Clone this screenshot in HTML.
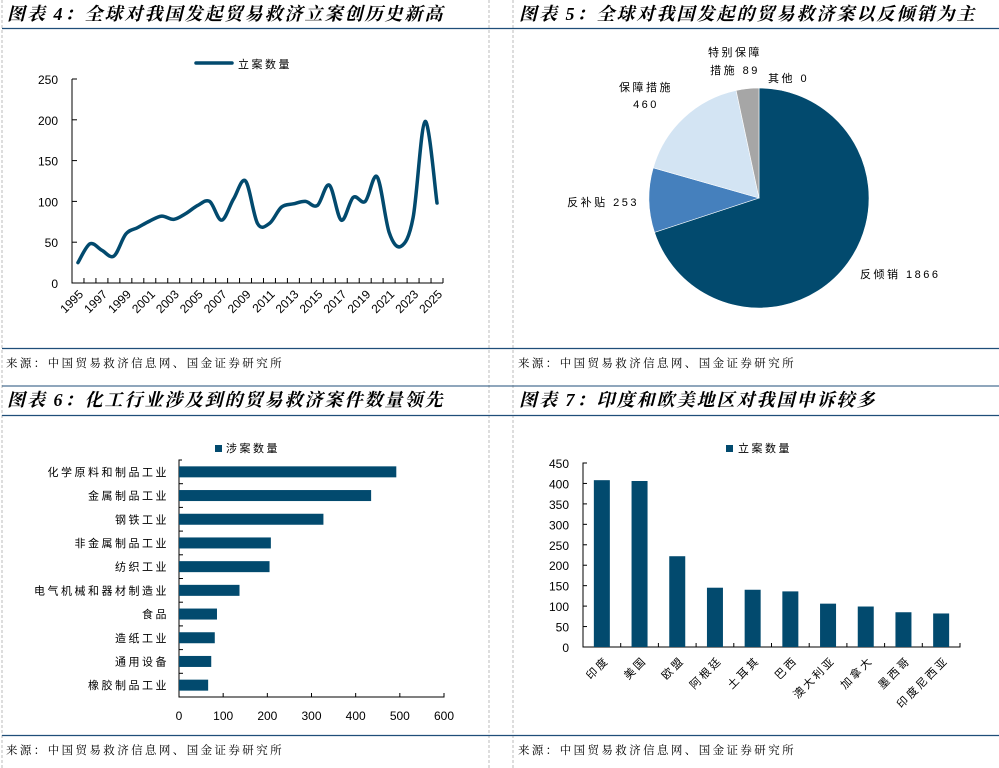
<!DOCTYPE html>
<html><head><meta charset="utf-8">
<style>
body{margin:0;width:999px;height:768px;background:#fff;overflow:hidden;font-family:"Liberation Sans","Noto Sans CJK SC",sans-serif;}
svg{position:absolute;left:0;top:0;}
.t{font-family:"Liberation Serif","Noto Serif CJK SC",serif;font-weight:bold;font-style:italic;font-size:18px;letter-spacing:2px;fill:#000;}
.src{font-family:"Liberation Serif","Noto Serif CJK SC",serif;font-size:11.5px;letter-spacing:2.4px;fill:#000;}
.tk{font-size:12px;fill:#000;}
.lb{font-size:11px;fill:#000;letter-spacing:2.5px;font-family:"Liberation Sans","Noto Sans CJK SC",sans-serif;}
</style></head><body>
<svg id="s" width="999" height="768" xmlns="http://www.w3.org/2000/svg">
<g stroke="#bbb" stroke-dasharray="3,2" stroke-width="1">
<line x1="2" y1="0" x2="2" y2="768"/><line x1="489" y1="0" x2="489" y2="768"/><line x1="513" y1="0" x2="513" y2="768"/>
</g>
<g stroke="#1f4e79" stroke-width="1.3">
<line x1="2" y1="28.5" x2="500" y2="28.5"/><line x1="500" y1="28.5" x2="999" y2="28.5"/>
<line x1="2" y1="348.5" x2="500" y2="348.5"/><line x1="500" y1="348.5" x2="999" y2="348.5"/>
<line x1="2" y1="415.5" x2="500" y2="415.5"/><line x1="500" y1="415.5" x2="999" y2="415.5"/>
<line x1="2" y1="735.5" x2="500" y2="735.5"/><line x1="500" y1="735.5" x2="999" y2="735.5"/>
<line x1="500" y1="386" x2="999" y2="386" stroke-width="1"/><line x1="2" y1="386" x2="500" y2="386" stroke-width="1"/>
</g>
<text class="t" x="7" y="20">图表 4：全球对我国发起贸易救济立案创历史新高</text>
<text class="t" x="519" y="20">图表 5：全球对我国发起的贸易救济案以反倾销为主</text>
<text class="t" x="7" y="406">图表 6：化工行业涉及到的贸易救济案件数量领先</text>
<text class="t" x="519" y="406">图表 7：印度和欧美地区对我国申诉较多</text>
<text class="src" x="6" y="367">来源：中国贸易救济信息网、国金证券研究所</text>
<text class="src" x="518" y="367">来源：中国贸易救济信息网、国金证券研究所</text>
<text class="src" x="6" y="754">来源：中国贸易救济信息网、国金证券研究所</text>
<text class="src" x="518" y="754">来源：中国贸易救济信息网、国金证券研究所</text>
<g id="c4"></g>
<g id="c5"></g>
<g id="c6"></g>
<g id="c7"></g>
</svg>
<script>
const years=[1995,1996,1997,1998,1999,2000,2001,2002,2003,2004,2005,2006,2007,2008,2009,2010,2011,2012,2013,2014,2015,2016,2017,2018,2019,2020,2021,2022,2023,2024,2025];
const cases=[25,48,40,33,60,68,76,82,78,85,95,100,77,103,125,73,73,93,97,100,95,120,77,105,100,130,62,45,80,198,98];
const yTicks4=[0,50,100,150,200,250];
const pieLabels=["反倾销","反补贴","保障措施","特别保障措施","其他"];
const pieValues=[1866,253,460,89,0];
const inds=["化学原料和制品工业","金属制品工业","钢铁工业","非金属制品工业","纺织工业","电气机械和器材制造业","食品","造纸工业","通用设备","橡胶制品工业"];
const indVals=[492,435,327,208,205,137,86,81,73,66];
const xTicks6=[0,100,200,300,400,500,600];
const countries=["印度","美国","欧盟","阿根廷","土耳其","巴西","澳大利亚","加拿大","墨西哥","印度尼西亚"];
const ctyVals=[408,406,222,145,140,136,106,99,85,82];
const yTicks7=[0,50,100,150,200,250,300,350,400,450];
const NS="http://www.w3.org/2000/svg";
const C="#024a6e";
function mk(p,tag,a,txt){const e=document.createElementNS(NS,tag);for(const k in a)e.setAttribute(k,a[k]);if(txt!==undefined)e.textContent=txt;p.appendChild(e);return e;}
// chart 4
(function(){
const g=document.getElementById('c4');
const x0=72,x1=443,y0=283,y1=79,n=years.length,bw=(x1-x0)/n;
const X=i=>x0+bw*(i+0.5),Y=v=>y0-(v/250)*(y0-y1);
let a=mk(g,'path',{d:`M${x0} ${y1}V${y0}H${x1}`,fill:'none',stroke:'#000','stroke-width':1});

yTicks4.forEach(t=>{mk(g,'line',{x1:x0,x2:x0+5,y1:Y(t),y2:Y(t),stroke:'#000'});
let e=mk(g,'text',{x:x0-14,y:Y(t)+5,'text-anchor':'end',class:'tk','font-size':13},t);});
for(let i=0;i<=n;i++)mk(g,'line',{x1:x0+bw*i,x2:x0+bw*i,y1:y0,y2:y0-5,stroke:'#000'});
years.forEach((yr,i)=>{if(i%2)return;let e=mk(g,'text',{transform:`translate(${X(i)+6},${y0+12}) rotate(-45)`,'text-anchor':'end',class:'tk','font-size':12.5},yr);});
const P=cases.map((v,i)=>[X(i),Y(v)]);
let d=`M${P[0][0]} ${P[0][1]}`;
for(let i=0;i<P.length-1;i++){const p0=P[Math.max(0,i-1)],p1=P[i],p2=P[i+1],p3=P[Math.min(P.length-1,i+2)];const t=1/6;
d+=`C${p1[0]+(p2[0]-p0[0])*t} ${p1[1]+(p2[1]-p0[1])*t} ${p2[0]-(p3[0]-p1[0])*t} ${p2[1]-(p3[1]-p1[1])*t} ${p2[0]} ${p2[1]}`;}
let l=mk(g,'path',{d:d,fill:'none',stroke:C,'stroke-width':3.5,'stroke-linecap':'round'});

let lg=mk(g,'line',{x1:196,x2:232,y1:63,y2:63,stroke:C,'stroke-width':3.5,'stroke-linecap':'round'});

let lt=mk(g,'text',{x:238,y:68,class:'lb','font-size':12},'立案数量');
})();
// chart 5
(function(){
const g=document.getElementById('c5');
const cx=759,cy=198,r=110,cols=["#024a6e","#4580bd","#d3e4f3","#a6a6a6","#666"];
const tot=pieValues.reduce((a,b)=>a+b,0);let ang=0;
const lpos=[[860,278,'start'],[639,206,'end'],[662,91,'end'],[735,56,'middle'],[768,82,'start']];
pieValues.forEach((v,i)=>{const a0=ang,a1=ang+v/tot*2*Math.PI;ang=a1;
if(v>0){const p=(a)=>[cx+r*Math.sin(a),cy-r*Math.cos(a)];const s=p(a0),e=p(a1);
let sl=mk(g,'path',{d:`M${cx} ${cy}L${s[0]} ${s[1]}A${r} ${r} 0 ${a1-a0>Math.PI?1:0} 1 ${e[0]} ${e[1]}Z`,fill:cols[i],stroke:'#fff','stroke-width':0.6});
}
const L=lpos[i];let t;
if(i===2){t=mk(g,'text',{x:L[0]-16,y:L[1],class:'lb','text-anchor':'middle','font-size':12});mk(t,'tspan',{x:L[0]-16,dy:0},pieLabels[i]);mk(t,'tspan',{x:L[0]-16,dy:17},v);}
else if(i===3){t=mk(g,'text',{x:L[0],y:L[1],class:'lb','text-anchor':'middle','font-size':12});mk(t,'tspan',{x:L[0],dy:0},'特别保障');mk(t,'tspan',{x:L[0],dy:18},'措施 '+v);}
else t=mk(g,'text',{x:L[0],y:L[1],class:'lb','text-anchor':L[2],'font-size':12},pieLabels[i]+' '+v);
});
})();
// chart 6
(function(){
const g=document.getElementById('c6');
const x0=179,x1=444,yT=460,yB=697,n=inds.length,bh=(yB-yT)/n;
const X=v=>x0+v/600*(x1-x0);
mk(g,'path',{d:`M${x0+3} ${yT}H${x0}V${yB}H${x1}V${yB-4}`,fill:'none',stroke:'#000'});
for(let i=1;i<n;i++)mk(g,'line',{x1:x0,x2:x0+4,y1:yT+bh*i,y2:yT+bh*i,stroke:'#000'});
xTicks6.forEach(t=>{mk(g,'line',{x1:X(t),x2:X(t),y1:yB,y2:yB-4,stroke:'#000'});
let e=mk(g,'text',{x:X(t),y:yB+23,'text-anchor':'middle',class:'tk','font-size':13},t);});
inds.forEach((c,i)=>{const yc=yT+bh*(i+0.5);
let b=mk(g,'rect',{x:x0,y:yc-5.5,width:X(indVals[i])-x0,height:11,fill:C});
let t=mk(g,'text',{x:169,y:yc+4,'text-anchor':'end',class:'lb'},c);});
let s=mk(g,'rect',{x:215,y:445,width:7,height:7,fill:C});
let lt=mk(g,'text',{x:226,y:452,class:'lb'},'涉案数量');
})();
// chart 7
(function(){
const g=document.getElementById('c7');
const x0=583,x1=960,y0=647,y1=463,n=countries.length,bw=(x1-x0)/n;
const Y=v=>y0-v/450*(y0-y1);
mk(g,'path',{d:`M${x0+4} ${y1}H${x0}V${y0}H${x1}V${y0-4}`,fill:'none',stroke:'#000'});
yTicks7.forEach(t=>{mk(g,'line',{x1:x0,x2:x0+4,y1:Y(t),y2:Y(t),stroke:'#000'});
let e=mk(g,'text',{x:x0-14,y:Y(t)+5,'text-anchor':'end',class:'tk','font-size':13},t);});
for(let i=1;i<n;i++)mk(g,'line',{x1:x0+bw*i,x2:x0+bw*i,y1:y0,y2:y0-4,stroke:'#000'});
countries.forEach((c,i)=>{const xc=x0+bw*(i+0.5);
let b=mk(g,'rect',{x:xc-8,y:Y(ctyVals[i]),width:16,height:y0-Y(ctyVals[i]),fill:C});
let t=mk(g,'text',{transform:`translate(${xc+8},${y0+14}) rotate(-45)`,'text-anchor':'end',class:'lb'},c);});
let s=mk(g,'rect',{x:726,y:445,width:7,height:7,fill:C});
let lt=mk(g,'text',{x:738,y:452,class:'lb'},'立案数量');
})();
</script>
</body></html>
